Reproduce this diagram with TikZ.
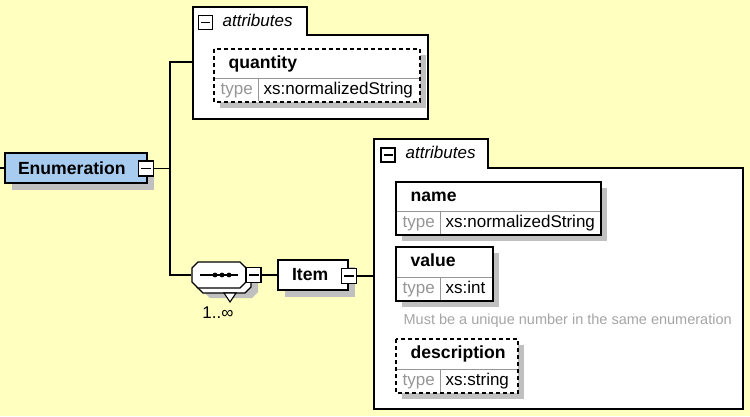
\documentclass[tikz,border=0pt]{standalone}
\usepackage{fontspec}
\setmainfont{Liberation Sans}
\usetikzlibrary{shadows}
\definecolor{bgyellow}{RGB}{255,255,192}
\definecolor{elemblue}{RGB}{168,204,240}
\definecolor{shadowgray}{RGB}{192,192,192}
\definecolor{typegray}{RGB}{150,150,150}
\definecolor{notegray}{RGB}{165,165,165}
\newcommand{\dfont}{\fontsize{17}{20}\selectfont}
\newcommand{\bfont}{\fontsize{17.6}{20}\selectfont\bfseries}

\begin{document}
\begin{tikzpicture}[x=1pt,y=-1pt,line width=1.3pt,
    elem/.style={draw,rectangle,minimum height=30pt,inner ysep=0pt,font=\bfont,
        drop shadow={shadow xshift=7pt,shadow yshift=-7pt,fill=shadowgray,opacity=1}},
    minus/.style={draw,fill=white,inner sep=0pt,minimum size=15pt,line width=1.1pt},
    octo/.pic={\path[pic actions] (-21,-13) -- (21,-13) -- (27,-7) -- (27,7) -- (21,13)
        -- (-21,13) -- (-27,7) -- (-27,-7) -- cycle;},
    lbl/.style={anchor=west,inner sep=0pt,text height=12.5pt,text depth=3.5pt,font=\dfont},
    optional/.style={dash pattern=on 4pt off 3pt},
    divider/.style={draw=typegray,line width=1pt}]
    \fill[bgyellow] (0,0) rectangle (750,416);
    \useasboundingbox (0,0) rectangle (750,416);

    % root element
    \coordinate (root) at (0,168);
    \node[elem,fill=elemblue,text width=116pt,inner xsep=13pt] (enum) at (76,168) {Enumeration};
    \node[minus] (enumMinus) at (146,168.5) {\rule{10pt}{1.5pt}};
    \coordinate (fork) at (170,168.5);

    % attributes of Enumeration
    \draw[fill=white] (193,119) -- (193,7) -- (307,7) -- (307,35) -- (428,35) -- (428,119) -- cycle;
    \node[minus,minimum size=14pt] (attrAMinus) at (205.5,22.5) {\rule{9pt}{1.4pt}};
    \node[lbl,font=\dfont\itshape] at (222,22) {attributes};
    \coordinate (attrA) at (193,62);

    \fill[shadowgray] (220,55) rectangle (426,108);
    \draw[fill=white,optional] (214,49) rectangle (420,102);
    \draw[divider] (215,78) -- (419,78) (258,78) -- (258,101);
    \node[lbl,font=\bfont] at (228,63.5) {quantity};
    \node[lbl,text=typegray] at (220,90) {type};
    \node[lbl] at (263,90) {xs:normalizedString};

    % sequence
    \pic[fill=shadowgray] at (231,285) {octo};
    \pic[draw,fill=white] at (224,280) {octo};
    \draw[fill=white,line width=1.1pt] (224,293) -- (236,293) -- (230,302) -- cycle;
    \pic[draw,fill=white] at (219,275) {octo};
    \node[minimum width=54pt,minimum height=26pt,inner sep=0pt] (seq) at (219,275) {};
    \draw (200,275) -- (238,275);
    \foreach \x in {215,222,229}
        \fill (\x,275) circle (2.4pt);
    \node[minus] (seqMinus) at (253.5,275) {\rule{10pt}{1.5pt}};
    \node[font=\dfont] (card) at (218,313) {1..∞};

    % Item element
    \node[elem,fill=white,text width=42pt,inner xsep=14pt] (item) at (313,275) {Item};
    \node[minus] (itemMinus) at (349,276) {\rule{10pt}{1.5pt}};

    % attributes of Item
    \draw[fill=white] (374,409) -- (374,139) -- (488,139) -- (488,168) -- (743,168) -- (743,409) -- cycle;
    \node[minus,minimum size=14pt] (attrBMinus) at (388,155) {\rule{9pt}{1.4pt}};
    \node[lbl,font=\dfont\itshape] at (405,154) {attributes};
    \coordinate (attrB) at (374,276);

    \fill[shadowgray] (402,188) rectangle (607,241);
    \draw[fill=white] (396,182) rectangle (601,235);
    \draw[divider] (397,211) -- (600,211) (440,211) -- (440,234);
    \node[lbl,font=\bfont] at (410,196.5) {name};
    \node[lbl,text=typegray] at (402,223) {type};
    \node[lbl] at (445,223) {xs:normalizedString};

    \fill[shadowgray] (402,253) rectangle (499,307);
    \draw[fill=white] (396,247) rectangle (493,301);
    \draw[divider] (397,277) -- (492,277) (440,277) -- (440,300);
    \node[lbl,font=\bfont] at (410,262) {value};
    \node[lbl,text=typegray] at (402,289) {type};
    \node[lbl] at (445,289) {xs:int};

    \node[lbl,font=\fontsize{14.5}{17}\selectfont,text=notegray] at (403,320) {Must be a unique number in the same enumeration};

    \fill[shadowgray] (402,345) rectangle (524,399);
    \draw[fill=white,optional] (396,339) rectangle (518,393);
    \draw[divider] (397,369) -- (517,369) (440,369) -- (440,392);
    \node[lbl,font=\bfont] at (410,354) {description};
    \node[lbl,text=typegray] at (402,381) {type};
    \node[lbl] at (445,381) {xs:string};

    % connectors
    \draw (root) -- (enum);
    \draw (enumMinus.east) -- (fork);
    \draw (fork) |- (attrA);
    \draw (fork) |- (seq.west);
    \draw (seqMinus.east) -- (item.west);
    \draw (itemMinus.east) -- (attrB);
\end{tikzpicture}
\end{document}
